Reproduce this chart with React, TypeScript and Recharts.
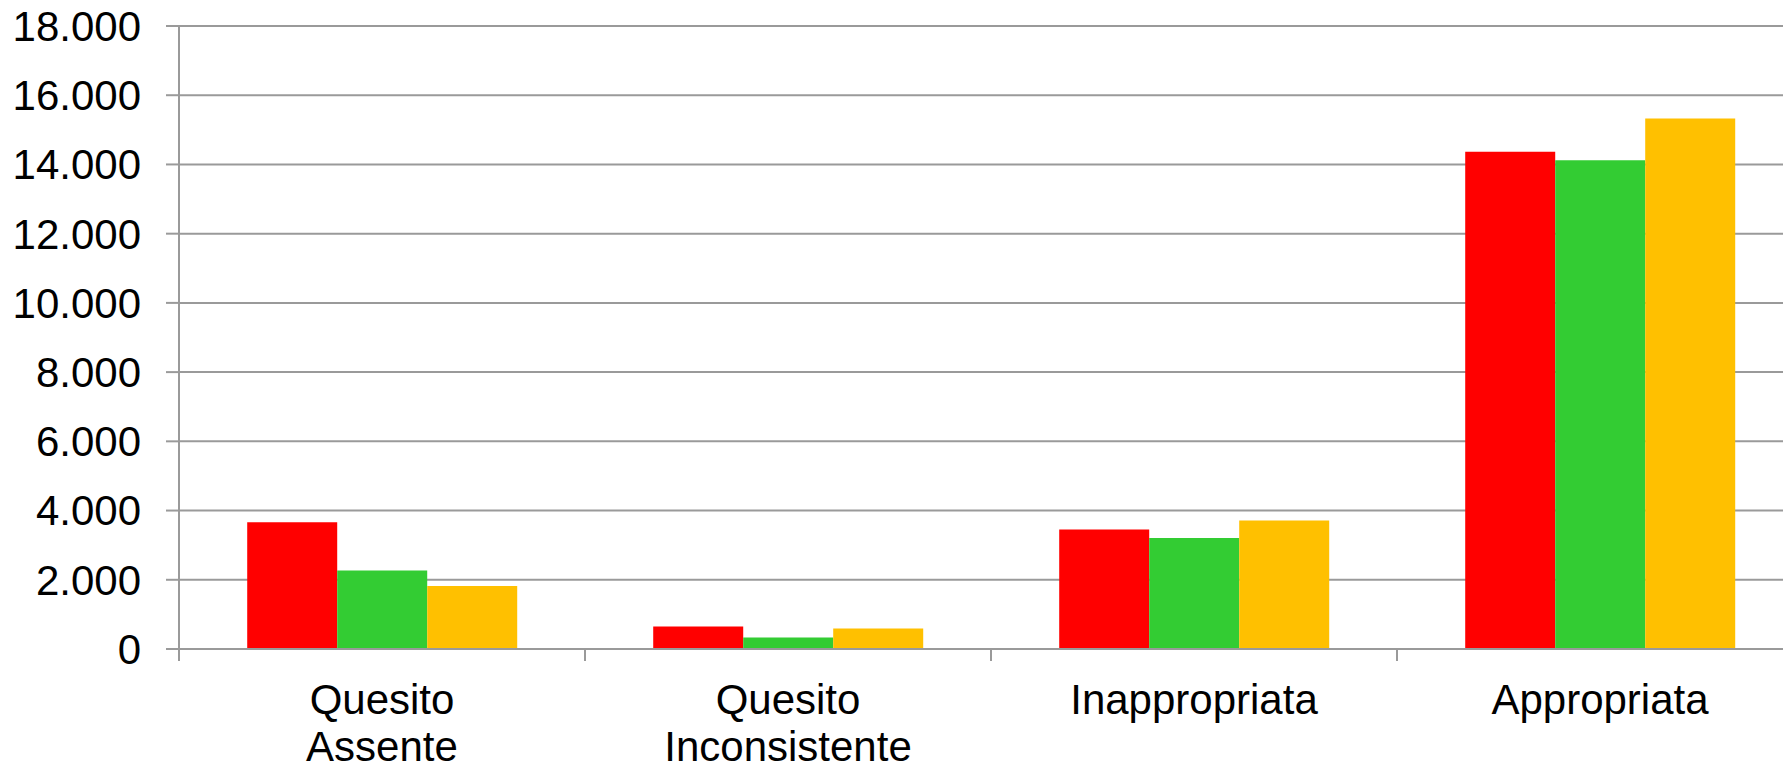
import { BarChart, Bar, XAxis, YAxis, CartesianGrid } from 'recharts';

const categories = ['Quesito\nAssente', 'Quesito\nInconsistente', 'Inappropriata', 'Appropriata'];
const serie1 = [3660, 650, 3450, 14370];
const serie2 = [2270, 330, 3210, 14120];
const serie3 = [1820, 590, 3710, 15330];
const yTicks = [0, 2000, 4000, 6000, 8000, 10000, 12000, 14000, 16000, 18000];

const data = categories.map((name, i) => ({
  name,
  serie1: serie1[i],
  serie2: serie2[i],
  serie3: serie3[i],
}));

const CHART_W = 1830;
const CHART_H = 766;
const MARGIN = { top: 26, right: 27, left: 0, bottom: 0 };
const Y_AXIS_W = 179;
const BAND = (CHART_W - MARGIN.left - MARGIN.right - Y_AXIS_W) / categories.length;
const GRID = '#9a9a9a';
const FONT = '"Liberation Sans", Arial, sans-serif';

const fmt = (v: number) => String(v).replace(/\B(?=(\d{3})+(?!\d))/g, '.');

const XTick = (props: any) => {
  const { x, y, payload } = props;
  const lines = String(payload.value).split('\n');
  return (
    <g>
      <line x1={x - BAND / 2} x2={x - BAND / 2} y1={y} y2={y + 12} stroke={GRID} strokeWidth={2} />
      <text x={x} y={y + 65} textAnchor="middle" fontSize={42} fill="#000" fontFamily={FONT}>
        {lines.map((l, i) => (
          <tspan key={i} x={x} dy={i === 0 ? 0 : 47}>
            {l}
          </tspan>
        ))}
      </text>
    </g>
  );
};

const App = () => {
  return (
    <div
      style={{
        position: 'absolute',
        left: 0,
        top: 0,
        width: 1783,
        height: 766,
        overflow: 'hidden',
        background: '#fff',
        fontFamily: FONT,
      }}
    >
      <BarChart width={CHART_W} height={CHART_H} data={data} margin={MARGIN} barCategoryGap="16.8%" barGap={0}>
        <CartesianGrid vertical={false} stroke={GRID} strokeWidth={2} />
        <XAxis
          dataKey="name"
          interval={0}
          height={CHART_H - MARGIN.top - 623}
          tickSize={0}
          tickMargin={0}
          tickLine={false}
          axisLine={{ stroke: GRID, strokeWidth: 2 }}
          tick={<XTick />}
        />
        <YAxis
          width={Y_AXIS_W}
          domain={[0, 18000]}
          ticks={yTicks}
          interval={0}
          tickFormatter={fmt}
          tickSize={13}
          tickMargin={25}
          tickLine={{ stroke: GRID, strokeWidth: 2 }}
          axisLine={{ stroke: GRID, strokeWidth: 2 }}
          tick={{ fontSize: 42, fill: '#000', fontFamily: FONT }}
        />
        <Bar dataKey="serie1" name="Serie 1" fill="#FF0000" isAnimationActive={false} />
        <Bar dataKey="serie2" name="Serie 2" fill="#33CC33" isAnimationActive={false} />
        <Bar dataKey="serie3" name="Serie 3" fill="#FFC000" isAnimationActive={false} />
      </BarChart>
    </div>
  );
};

export default App;
